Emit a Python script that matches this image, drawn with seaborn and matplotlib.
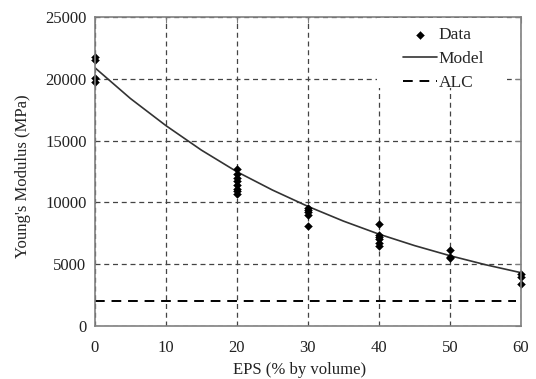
import matplotlib
matplotlib.use("Agg")
import matplotlib.pyplot as plt
from matplotlib.patches import Rectangle
import seaborn as sns
import pandas as pd

# Data
data_eps = [0, 0, 0, 0,
            20, 20, 20, 20, 20, 20, 20, 20,
            30, 30, 30, 30, 30,
            40, 40, 40, 40, 40, 40,
            50, 50, 50,
            60, 60, 60]
data_modulus = [21750, 21550, 20050, 19750,
                12700, 12300, 12000, 11700, 11400, 11100, 10900, 10700,
                9580, 9400, 9200, 9000, 8100,
                8280, 7400, 7200, 7000, 6750, 6500,
                6170, 5600, 5500,
                4220, 4000, 3420]

model_eps = [0, 5, 10, 15, 20, 25, 30, 35, 40, 45, 50, 55, 60]
model_modulus = [20900, 18410, 16215, 14230, 12480, 11000, 9675, 8485, 7430, 6505, 5685, 4955, 4310]

alc_eps = [0, 59.3]
alc_modulus = [2000, 2000]

x_ticks = [0, 10, 20, 30, 40, 50, 60]
y_ticks = [0, 5000, 10000, 15000, 20000, 25000]

sns.set_style("white")
plt.rcParams["font.family"] = ["Liberation Serif", "DejaVu Serif"]

fig, ax = plt.subplots(figsize=(5.36, 3.79), dpi=100)
fig.subplots_adjust(left=0.177, right=0.972, top=0.955, bottom=0.140)

df_data = pd.DataFrame({"EPS": data_eps, "E": data_modulus})
df_model = pd.DataFrame({"EPS": model_eps, "E": model_modulus})
df_alc = pd.DataFrame({"EPS": alc_eps, "E": alc_modulus})

# white box behind the legend hides the grid there
ax.add_patch(Rectangle((0.662, 0.77), 0.305, 0.228, transform=ax.transAxes,
                       facecolor="white", edgecolor="none", zorder=1))

sns.lineplot(data=df_model, x="EPS", y="E", ax=ax, color="#333333", lw=1.2, label="Model", zorder=3)
sns.lineplot(data=df_alc, x="EPS", y="E", ax=ax, color="black", lw=1.4, linestyle=(0, (5, 3.5)), label="ALC", zorder=3)
sns.scatterplot(data=df_data, x="EPS", y="E", ax=ax, marker="D", s=16, color="black", edgecolor="black",
                linewidth=0.3, label="Data", zorder=4, clip_on=False)

ax.set_xlim(0, 60)
ax.set_ylim(0, 25000)
ax.set_xticks(x_ticks)
ax.set_yticks(y_ticks)
ax.grid(True, color="#444444", linestyle=(0, (4, 3)), lw=0.9)
ax.set_axisbelow(True)
for s in ax.spines.values():
    s.set_color("#808080")
    s.set_linewidth(1.2)
    s.set_zorder(5)
ax.tick_params(direction="in", top=True, right=True, length=4, color="#808080", labelsize=12, labelcolor="#222222")
ax.tick_params(axis="x", pad=10)
ax.tick_params(axis="y", pad=6)
ax.set_xlabel("EPS (% by volume)", fontsize=12, color="#222222")
ax.set_ylabel("Young's Modulus (MPa)", fontsize=12, color="#222222")
ax.xaxis.set_label_coords(0.48, -0.118)
ax.yaxis.set_label_coords(-0.15, 0.485)

handles, labels = ax.get_legend_handles_labels()
order = [labels.index("Data"), labels.index("Model"), labels.index("ALC")]
leg = ax.legend([handles[i] for i in order], [labels[i] for i in order],
                loc="upper left", bbox_to_anchor=(0.723, 0.968), frameon=False, fontsize=12.5,
                handlelength=1.95, handletextpad=0.1, labelspacing=0.45, borderpad=0, borderaxespad=0)

fig.savefig("out.png", dpi=100)
